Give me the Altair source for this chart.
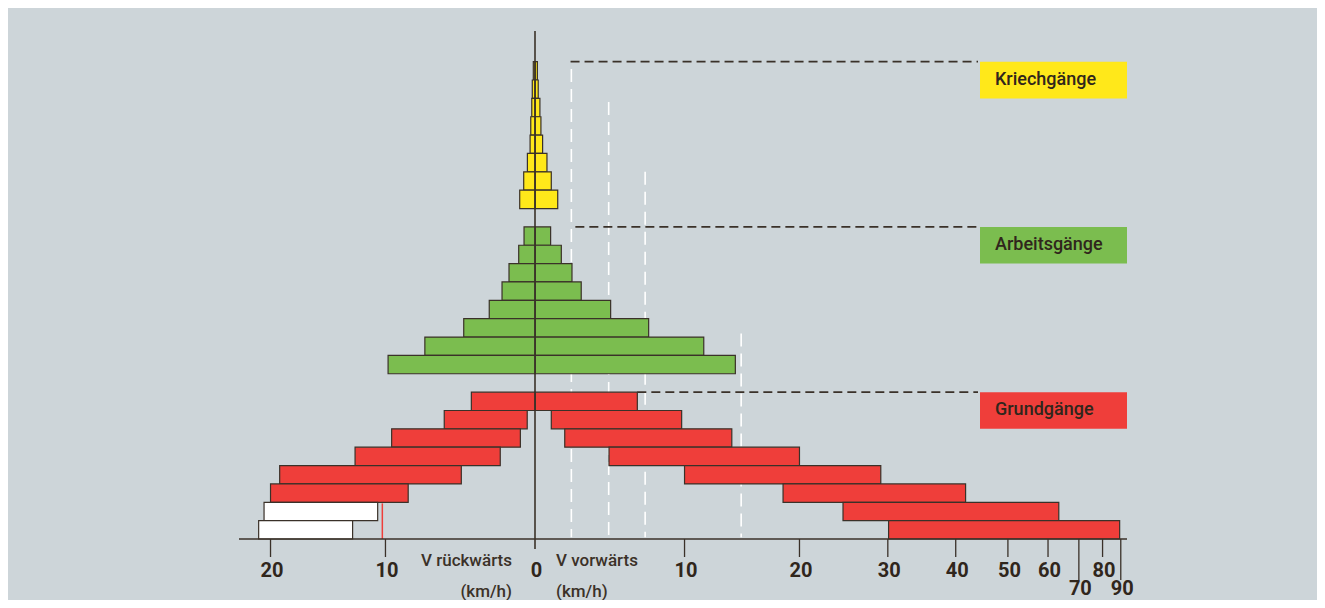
import altair as alt
import pandas as pd

# ---------------- data (km/h) ----------------
kriech_fwd = [0.14, 0.19, 0.29, 0.35, 0.45, 0.71, 0.97, 1.36]
kriech_rev = [0.10, 0.16, 0.19, 0.25, 0.29, 0.45, 0.67, 0.91]
arbeit_fwd = [0.93, 1.58, 2.24, 2.82, 4.73, 7.35, 11.5, 14.1]
arbeit_rev = [0.65, 0.97, 1.56, 1.99, 2.79, 4.44, 7.10, 9.80]
grund_fwd_min = [0.0, 0.97, 1.79, 4.62, 10.0, 18.4, 24.6, 30.1]
grund_fwd_max = [6.55, 9.78, 13.8, 20.0, 29.1, 41.7, 63.2, 89.3]
grund_rev_min = [0.0, 0.46, 0.87, 2.10, 4.60, 8.30, 10.6, 12.6]
grund_rev_max = [3.94, 5.75, 9.53, 12.4, 19.1, 20.0, 20.65, 21.2]

group_names = ["Kriechgänge", "Arbeitsgänge", "Grundgänge"]
ref_lines_v = [2.2, 4.6, 7.1, 14.6]
ref_lines_top = [25.6, 23.8, 20.0, 11.2]
tick_vals = [-20, -10, 0, 10, 20, 30, 40, 50, 60, 70, 80, 90]
tick_labels = ["20", "10", "0", "10", "20", "30", "40", "50", "60", "70", "80", "90"]
marker_rev_v = 10.24

# ---------------- styles ----------------
YELLOW = "#FFE81A"
GREEN = "#7BBD4F"
RED = "#EF3E3A"
WHITE = "#FFFFFF"
INK = "#3a3129"
TXT = "#30261c"
BG = "#cdd5d9"
K = 38.0  # saturation constant of the speed axis
FONT = "Roboto"


def tx(field):
    return f"(datum.{field}<0?-1:1)*(1-exp(-abs(datum.{field})/{K}))"


# ---------------- build tables ----------------
rows = []
for i in range(8):
    top = 26 - i
    rows.append(dict(v0=0.0, v1=kriech_fwd[i], ytop=top, ybot=top - 1, fill=YELLOW))
    rows.append(dict(v0=0.0, v1=-kriech_rev[i], ytop=top, ybot=top - 1, fill=YELLOW))
for i in range(8):
    top = 17 - i
    rows.append(dict(v0=0.0, v1=arbeit_fwd[i], ytop=top, ybot=top - 1, fill=GREEN))
    rows.append(dict(v0=0.0, v1=-arbeit_rev[i], ytop=top, ybot=top - 1, fill=GREEN))
for i in range(8):
    top = 8 - i
    rows.append(dict(v0=grund_fwd_min[i], v1=grund_fwd_max[i], ytop=top, ybot=top - 1, fill=RED))
    rows.append(dict(v0=-grund_rev_min[i], v1=-grund_rev_max[i], ytop=top, ybot=top - 1,
                     fill=WHITE if i >= 6 else RED))
bars_df = pd.DataFrame(rows)

ref_df = pd.DataFrame({"v": ref_lines_v, "top": ref_lines_top, "bot": [0.1] * 4})
dash_df = pd.DataFrame({"v": [2.15, 2.45, grund_fwd_max[0]], "row": [26, 17, 8]})
box_df = pd.DataFrame({"label": group_names, "top": [26, 17, 8],
                       "bot": [24, 15, 6], "mid": [25, 16, 7],
                       "fill": [YELLOW, GREEN, RED]})
tick_df = pd.DataFrame({"v": tick_vals, "label": tick_labels})
tick_df["lng"] = [1 if v in (70, 90) else 0 for v in tick_vals]
marker_df = pd.DataFrame({"v": [-marker_rev_v], "top": [1.94], "bot": [0.0]})
titles_df = pd.DataFrame({
    "text": ["V rückwärts", "(km/h)", "V vorwärts", "(km/h)"],
    "side": ["r", "r", "l", "l"],
    "line": [0, 1, 0, 1],
})

xs = alt.Scale(domain=[-0.458, 0.916], nice=False, zero=False)
ys = alt.Scale(domain=[0, 27.67], nice=False, zero=False)
X = lambda f: alt.X(f, scale=xs, axis=None)
Y = lambda f: alt.Y(f, scale=ys, axis=None)

bars = alt.Chart(bars_df).transform_calculate(t0=tx("v0"), t1=tx("v1")).mark_rect(
    stroke=INK, strokeWidth=1.2
).encode(
    x=X("t0:Q"), x2="t1:Q", y=Y("ytop:Q"), y2="ybot:Q",
    fill=alt.Fill("fill:N", scale=None),
)

ref_lines = alt.Chart(ref_df).transform_calculate(t=tx("v")).mark_rule(
    color="white", strokeWidth=1.6, strokeDash=[13, 7]
).encode(x=X("t:Q"), y=Y("top:Q"), y2="bot:Q")

dash_lines = alt.Chart(dash_df).transform_calculate(t=tx("v")).mark_rule(
    color=INK, strokeWidth=1.6, strokeDash=[9, 5]
).encode(x=X("t:Q"), x2=alt.value(739), y=Y("row:Q"))

zero_line = alt.Chart(tick_df).transform_filter("datum.v == 0").mark_rule(
    color=INK, strokeWidth=1.6
).encode(x=X("v:Q"), y=alt.value(0), y2=alt.value(518))

boxes = alt.Chart(box_df).mark_rect().encode(
    x=alt.value(741), x2=alt.value(888), y=Y("top:Q"), y2="bot:Q",
    fill=alt.Fill("fill:N", scale=None),
)
box_text = alt.Chart(box_df).mark_text(
    align="left", baseline="middle", font=FONT, fontSize=18, fontWeight=500, color=TXT
).encode(x=alt.value(756), y=Y("mid:Q"), text="label:N")

axis_line = alt.Chart(tick_df).transform_filter("datum.v == 0").mark_rule(
    color=INK, strokeWidth=1.6
).encode(x=alt.value(0), x2=alt.value(888), y=alt.value(508))

ticks_short = alt.Chart(tick_df).transform_filter("datum.lng == 0 && datum.v != 0").transform_calculate(
    t=tx("v")).mark_rule(color=INK, strokeWidth=1.3).encode(
    x=X("t:Q"), y=alt.value(508), y2=alt.value(526))
ticks_long = alt.Chart(tick_df).transform_filter("datum.lng == 1").transform_calculate(
    t=tx("v")).mark_rule(color=INK, strokeWidth=1.3).encode(
    x=X("t:Q"), y=alt.value(508), y2=alt.value(549))

lab_style = dict(baseline="middle", align="center", dx=1.5, font=FONT,
                 fontSize=20, fontWeight="bold", color=TXT)
labels_short = alt.Chart(tick_df).transform_filter("datum.lng == 0").transform_calculate(
    t=tx("v")).mark_text(**lab_style).encode(x=X("t:Q"), y=alt.value(540), text="label:N")
labels_long = alt.Chart(tick_df).transform_filter("datum.lng == 1").transform_calculate(
    t=tx("v")).mark_text(**lab_style).encode(x=X("t:Q"), y=alt.value(558), text="label:N")

marker = alt.Chart(marker_df).transform_calculate(t=tx("v")).mark_rule(
    color=RED, strokeWidth=1.5).encode(x=X("t:Q"), y=Y("top:Q"), y2="bot:Q")

title_style = dict(font=FONT, fontSize=17, fontWeight=500, color="#3b3128", baseline="middle")
t_rev = alt.Chart(titles_df).transform_filter("datum.side == 'r'").transform_calculate(
    py="530 + 31*datum.line").mark_text(align="right", **title_style).encode(
    x=alt.value(273), y=alt.Y("py:Q", scale=None, axis=None), text="text:N")
t_fwd = alt.Chart(titles_df).transform_filter("datum.side == 'l'").transform_calculate(
    py="530 + 31*datum.line").mark_text(align="left", **title_style).encode(
    x=alt.value(317), y=alt.Y("py:Q", scale=None, axis=None), text="text:N")

chart = alt.layer(
    ref_lines, dash_lines, bars, marker, zero_line, boxes, box_text,
    axis_line, ticks_short, ticks_long, labels_short, labels_long, t_rev, t_fwd,
).resolve_scale(y="independent").properties(
    width=888, height=508,
    padding={"left": 231, "top": 23, "right": 190, "bottom": 61},
    autosize=alt.AutoSizeParams(type="none"),
    background=BG,
).configure_view(stroke=None)

chart.save("out.html", embed_options={"renderer": "svg", "actions": False})
